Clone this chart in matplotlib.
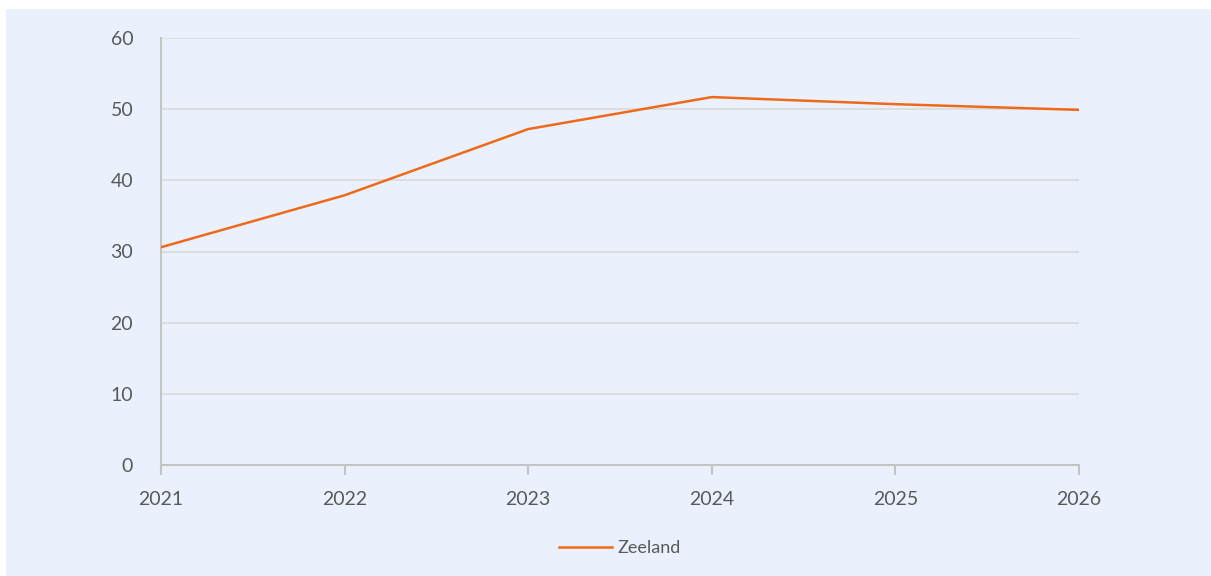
import matplotlib
matplotlib.use("Agg")
import matplotlib.pyplot as plt
from matplotlib.patches import Rectangle

years = ["2021", "2022", "2023", "2024", "2025", "2026"]
zeeland = [30.6, 37.9, 47.2, 51.7, 50.7, 49.9]
yticks = [0, 10, 20, 30, 40, 50, 60]

W, H = 1211, 576
plt.rcParams['font.family'] = ['Lato', 'DejaVu Sans']
fig = plt.figure(figsize=(W/100, H/100), dpi=100, facecolor='white')
bg = '#EAF1FD'
fig.patches.append(Rectangle((6/W, 0), 1 - 6/W, 1 - 9/H, transform=fig.transFigure,
                             facecolor=bg, edgecolor='none', zorder=-10))

ax = fig.add_axes([161/W, 1 - 465/H, (1079-161)/W, (465-38)/H])
ax.set_facecolor('none')
ax.set_zorder(1)
x = list(range(len(years)))
ax.plot(x, zeeland, color='#EE6A1A', lw=1.8, label='Zeeland', zorder=3)
ax.set_xlim(0, len(years)-1)
ax.set_ylim(0, 60)
ax.set_yticks(yticks)
ax.set_xticks(x)
ax.set_xticklabels(years)
ax.grid(axis='y', color='#D9D9D9', lw=1.2)
ax.set_axisbelow(True)
for s in ['top', 'right']:
    ax.spines[s].set_visible(False)
for s in ['left', 'bottom']:
    ax.spines[s].set_color('#C4C4C4')
    ax.spines[s].set_linewidth(1.5)
ax.tick_params(axis='x', length=7, width=1.5, color='#C4C4C4', pad=12,
               labelsize=14, labelcolor='#595959')
ax.tick_params(axis='y', length=0, pad=20, labelsize=14, labelcolor='#595959')

leg = fig.legend(loc='center', bbox_to_anchor=(620/W, 1 - 548/H), frameon=False,
                 fontsize=13, handlelength=2.9, handletextpad=0.3)
for t in leg.get_texts():
    t.set_color('#595959')

fig.savefig('out.png', dpi=100, facecolor='white')
